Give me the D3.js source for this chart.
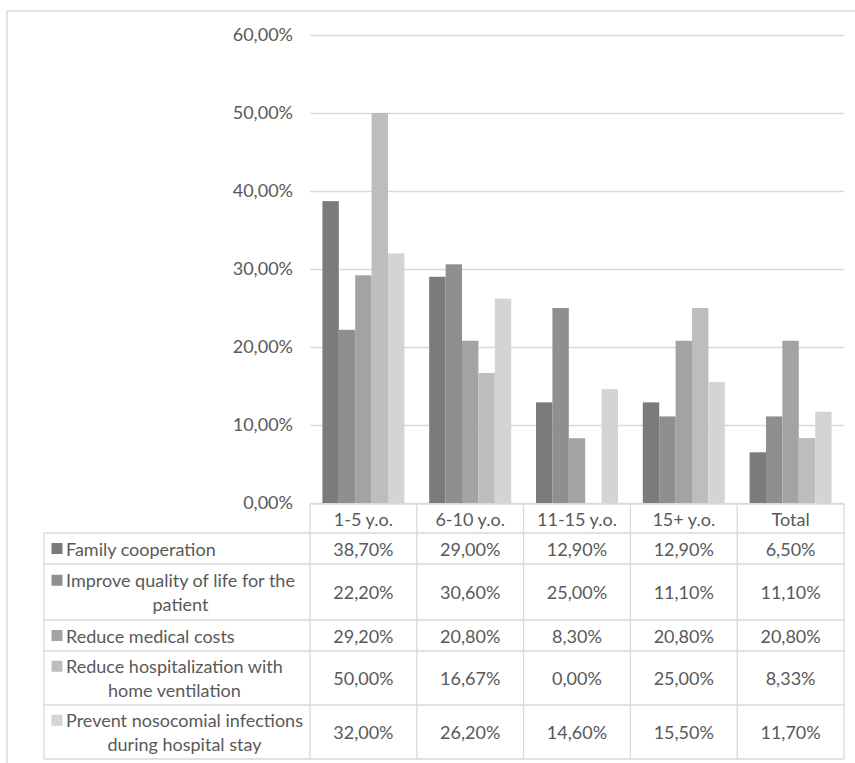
<!DOCTYPE html>
<html><head><meta charset="utf-8">
<script src="https://cdn.jsdelivr.net/npm/d3@7"></script>
<style>
html,body{margin:0;padding:0;background:#fff;}
svg{display:block;}
text{font-family:Lato,"Open Sans",sans-serif;fill:#595959;}
</style></head>
<body>
<svg id="chart" width="855" height="763"></svg>
<script>
const categories = ["1-5 y.o.", "6-10 y.o.", "11-15 y.o.", "15+ y.o.", "Total"];
const seriesNames = [
  ["Family cooperation"],
  ["Improve quality of life for the", "patient"],
  ["Reduce medical costs"],
  ["Reduce hospitalization with", "home ventilation"],
  ["Prevent nosocomial infections", "during hospital stay"]
];
const familyCooperation = [0.387, 0.290, 0.129, 0.129, 0.065];
const improveQuality    = [0.222, 0.306, 0.250, 0.111, 0.111];
const reduceCosts       = [0.292, 0.208, 0.083, 0.208, 0.208];
const reduceHosp        = [0.500, 0.1667, 0.000, 0.250, 0.0833];
const preventInfections = [0.320, 0.262, 0.146, 0.155, 0.117];
const seriesValues = [familyCooperation, improveQuality, reduceCosts, reduceHosp, preventInfections];
const yTicks = [0, 0.1, 0.2, 0.3, 0.4, 0.5, 0.6];
const colors = ["#7b7b7b", "#8f8f8f", "#a3a3a3", "#bdbdbd", "#d4d4d4"];

const svg = d3.select("#chart");
const plotL = 310, plotR = 844, plotT = 35, plotB = 503;
const tableL = 44;
const rowHeights = [31, 56, 31, 54, 54];
const lineColor = "#d9d9d9";
const fontSize = 18;

// frame
svg.append("path").attr("d", "M7,763V11H855").attr("fill", "none").attr("stroke", lineColor).attr("stroke-width", 1.5);

const x0 = d3.scaleBand().domain(categories).range([plotL, plotR]).padding(0);
const x1 = d3.scaleBand().domain(d3.range(5)).range([0, x0.bandwidth()]).paddingInner(0).paddingOuter(0.756);
const y = d3.scaleLinear().domain([0, 0.6]).range([plotB, plotT]);

const fmt = v => d3.format(".2%")(v).replace(".", ",");

// gridlines + y axis labels
const yAxis = d3.axisLeft(y).tickValues(yTicks).tickSize(-(plotR - plotL)).tickPadding(17).tickFormat(fmt);
const gy = svg.append("g").attr("transform", `translate(${plotL},0)`).call(yAxis);
gy.select(".domain").remove();
gy.selectAll(".tick line").attr("stroke", lineColor).attr("stroke-width", 1.3);
gy.selectAll(".tick text").attr("font-size", fontSize).attr("font-family", "Lato").attr("fill", "#595959");

// bars
const groups = svg.append("g").selectAll("g").data(categories).join("g")
  .attr("transform", d => `translate(${x0(d)},0)`);
groups.selectAll("rect").data((c, ci) => seriesValues.map((s, si) => ({si, v: s[ci]})))
  .join("rect")
  .attr("x", d => x1(d.si))
  .attr("width", x1.bandwidth())
  .attr("y", d => y(d.v))
  .attr("height", d => plotB - y(d.v))
  .attr("fill", d => colors[d.si]);

// table
const headerTop = plotB + 1, headerBottom = 533;
const rowTops = [headerBottom];
rowHeights.forEach((h, i) => rowTops.push(rowTops[i] + h));
const tableBottom = rowTops[rowTops.length - 1];
const tg = svg.append("g");
// horizontal lines
tg.append("line").attr("x1", plotL).attr("x2", plotR).attr("y1", headerTop).attr("y2", headerTop).attr("stroke", lineColor).attr("stroke-width", 1.3);
rowTops.forEach(t => tg.append("line").attr("x1", tableL).attr("x2", plotR).attr("y1", t).attr("y2", t).attr("stroke", lineColor).attr("stroke-width", 1.3));
// vertical lines
tg.append("line").attr("x1", tableL).attr("x2", tableL).attr("y1", headerBottom).attr("y2", tableBottom).attr("stroke", lineColor).attr("stroke-width", 1.3);
const colEdges = categories.map(c => x0(c)).concat([plotR]);
colEdges.forEach(xe => tg.append("line").attr("x1", xe).attr("x2", xe).attr("y1", headerTop).attr("y2", tableBottom).attr("stroke", lineColor).attr("stroke-width", 1.3));

// header text
categories.forEach(c => {
  tg.append("text").attr("x", x0(c) + x0.bandwidth() / 2).attr("y", (headerTop + headerBottom) / 2)
    .attr("text-anchor", "middle").attr("dominant-baseline", "central").attr("font-size", fontSize).text(c);
});

// rows
seriesNames.forEach((lines, si) => {
  const top = rowTops[si], h = rowHeights[si];
  const cy = top + h / 2;
  const lineGap = 23.5;
  const y0 = cy - (lines.length - 1) * lineGap / 2;
  tg.append("rect").attr("x", 51.5).attr("y", y0 - 5.5).attr("width", 11).attr("height", 11).attr("fill", colors[si]);
  const t1 = tg.append("text").attr("x", 66).attr("y", y0).attr("dominant-baseline", "central").attr("font-size", fontSize).text(lines[0]);
  if (lines.length > 1) {
    const w = t1.node().getComputedTextLength();
    tg.append("text").attr("x", 66 + w / 2).attr("y", y0 + lineGap).attr("text-anchor", "middle")
      .attr("dominant-baseline", "central").attr("font-size", fontSize).text(lines[1]);
  }
  categories.forEach((c, ci) => {
    tg.append("text").attr("x", x0(c) + x0.bandwidth() / 2).attr("y", cy)
      .attr("text-anchor", "middle").attr("dominant-baseline", "central").attr("font-size", fontSize)
      .text(fmt(seriesValues[si][ci]));
  });
});
</script>
</body></html>
